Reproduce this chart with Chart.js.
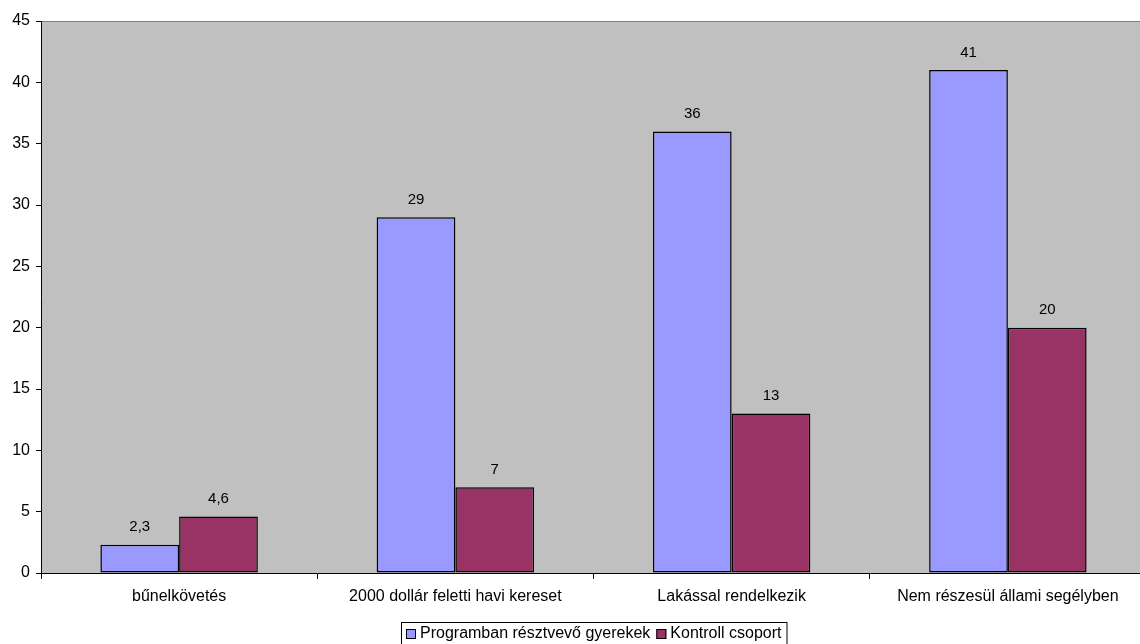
<!DOCTYPE html>
<html>
<head>
<meta charset="utf-8">
<script src="https://cdn.jsdelivr.net/npm/chart.js@4"></script>
<style>
  html, body { margin: 0; padding: 0; background: #fff; overflow: hidden; }
  #wrap { width: 1146px; height: 644px; }
</style>
</head>
<body>
<div id="wrap"><canvas id="chart"></canvas></div>
<script>
const categories = ["bűnelkövetés", "2000 dollár feletti havi kereset", "Lakással rendelkezik", "Nem részesül állami segélyben"];
const programValues = [2.3, 29, 36, 41];
const controlValues = [4.6, 7, 13, 20];
const seriesNames = ["Programban résztvevő gyerekek", "Kontroll csoport"];
const seriesColors = ["#9999FF", "#993366"];

const FONT = "'Liberation Sans', Arial, sans-serif";

const fmt = v => String(v).replace(".", ",");

// plot background + top border
const plotBg = {
    id: "plotBg",
    beforeDraw(chart) {
        const a = chart.chartArea, c = chart.ctx;
        c.save();
        c.fillStyle = "#C0C0C0";
        c.fillRect(a.left, a.top, a.right - a.left, a.bottom - a.top);
        c.strokeStyle = "#808080";
        c.lineWidth = 1;
        c.beginPath();
        c.moveTo(a.left, a.top + 0.5);
        c.lineTo(a.right, a.top + 0.5);
        c.stroke();
        c.restore();
    }
};

// value labels above bars
const valueLabels = {
    id: "valueLabels",
    afterDatasetsDraw(chart) {
        const c = chart.ctx;
        c.save();
        c.font = "15px " + FONT;
        c.fillStyle = "#000";
        c.textAlign = "center";
        c.textBaseline = "bottom";
        chart.data.datasets.forEach((ds, i) => {
            chart.getDatasetMeta(i).data.forEach((bar, j) => {
                c.fillText(fmt(ds.data[j]), bar.x, bar.y - 10);
            });
        });
        c.restore();
    }
};

// boxed legend at the bottom
const boxLegend = {
    id: "boxLegend",
    afterDraw(chart) {
        const c = chart.ctx, a = chart.chartArea;
        c.save();
        c.font = "16px " + FONT;
        const sq = 10, gap = 4, itemGap = 6;
        const widths = seriesNames.map(n => sq + gap + c.measureText(n).width);
        const total = widths.reduce((s, w) => s + w, 0) + itemGap * (widths.length - 1);
        const cx = (a.left + a.right) / 2;
        const left = Math.round(cx - total / 2 - 5);
        const top = 622;
        c.strokeStyle = "#000";
        c.lineWidth = 1;
        c.strokeRect(left + 0.5, top + 0.5, total + 10, 22);
        let x = left + 5;
        const cy = top + 12;
        seriesNames.forEach((n, i) => {
            c.fillStyle = seriesColors[i];
            c.fillRect(x, cy - 5, sq, sq);
            c.strokeRect(x + 0.5, cy - 4.5, sq - 1, sq - 1);
            c.fillStyle = "#000";
            c.textBaseline = "middle";
            c.fillText(n, x + sq + gap, cy);
            x += widths[i] + itemGap;
        });
        c.restore();
    }
};

new Chart(document.getElementById("chart"), {
    type: "bar",
    data: {
        labels: categories,
        datasets: [
            { label: seriesNames[0], data: programValues, backgroundColor: seriesColors[0] },
            { label: seriesNames[1], data: controlValues, backgroundColor: seriesColors[1] }
        ]
    },
    options: {
        responsive: true,
        maintainAspectRatio: false,
        animation: false,
        layout: { padding: { top: 21, right: 0, left: 0, bottom: 0 } },
        datasets: {
            bar: {
                borderColor: "#000",
                borderWidth: 1.5,
                borderSkipped: false,
                categoryPercentage: 0.57,
                barPercentage: 1
            }
        },
        plugins: {
            legend: { display: false },
            tooltip: { enabled: false }
        },
        scales: {
            x: {
                grid: { display: true, drawOnChartArea: false, color: "#000", tickLength: 6, offset: true },
                border: { color: "#000" },
                ticks: { color: "#000", font: { family: FONT, size: 16 }, padding: 8, maxRotation: 0 },
                afterFit: s => { s.height = 644 - 573; }
            },
            y: {
                min: 0,
                max: 45,
                grid: { display: true, drawOnChartArea: false, color: "#000", tickLength: 5 },
                border: { color: "#000" },
                ticks: { stepSize: 5, color: "#000", font: { family: FONT, size: 16 }, padding: 6 },
                afterFit: s => { s.width = 41; }
            }
        }
    },
    plugins: [plotBg, valueLabels, boxLegend]
});
</script>
</body>
</html>
